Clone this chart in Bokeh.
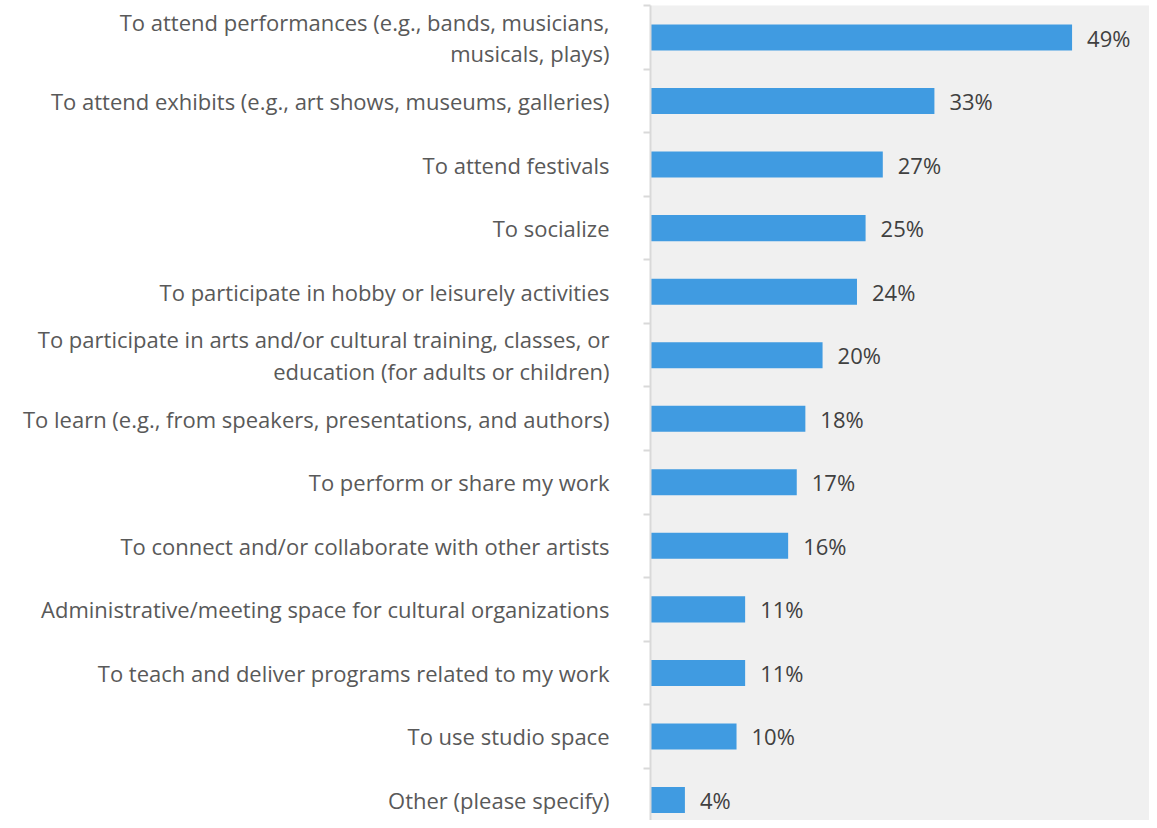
from bokeh.plotting import figure
from bokeh.models import Range1d, FixedTicker, ColumnDataSource
from bokeh.core.properties import value
from bokeh.embed import file_html
from bokeh.resources import INLINE

categories = [
    "To attend performances (e.g., bands, musicians,\nmusicals, plays)",
    "To attend exhibits (e.g., art shows, museums, galleries)",
    "To attend festivals",
    "To socialize",
    "To participate in hobby or leisurely activities",
    "To participate in arts and/or cultural training, classes, or\neducation (for adults or children)",
    "To learn (e.g., from speakers, presentations, and authors)",
    "To perform or share my work",
    "To connect and/or collaborate with other artists",
    "Administrative/meeting space for cultural organizations",
    "To teach and deliver programs related to my work",
    "To use studio space",
    "Other (please specify)",
]
percent = [49, 33, 27, 25, 24, 20, 18, 17, 16, 11, 11, 10, 4]
value_labels = [f"{v}%" for v in percent]

idx = list(range(len(categories)))
src = ColumnDataSource(dict(y=idx, v=percent, lab=value_labels))

FONT = "Open Sans"

p = figure(width=1149, height=820, output_backend="svg", toolbar_location=None,
           x_range=Range1d(0, 58.0), y_range=Range1d(12.323, -0.504),
           min_border_left=650, min_border_right=0, min_border_top=5, min_border_bottom=0)
p.background_fill_color = "#F0F0F0"
p.border_fill_color = "white"
p.outline_line_color = None
p.grid.visible = False
p.xaxis.visible = False

p.hbar(y="y", right="v", left=0, height=0.41, source=src,
       fill_color="#409BE1", line_color=None)
p.text(x="v", y="y", text="lab", source=src, x_offset=15,
       text_font=value(FONT), text_font_size="22px", text_color="#404040",
       text_baseline="middle", text_align="left")

ax = p.yaxis[0]
ax.ticker = FixedTicker(ticks=idx, minor_ticks=[i - 0.5 for i in range(len(categories) + 1)])
ax.major_label_overrides = {i: c for i, c in enumerate(categories)}
ax.major_tick_out = 0
ax.major_tick_in = 0
ax.minor_tick_out = 7
ax.minor_tick_in = 0
ax.minor_tick_line_color = "#D9D9D9"
ax.minor_tick_line_width = 2
ax.axis_line_color = "#D9D9D9"
ax.axis_line_width = 2
ax.major_label_standoff = 34
ax.major_label_text_font = FONT
ax.major_label_text_font_size = "22px"
ax.major_label_text_color = "#595959"
ax.major_label_text_align = "right"
ax.major_label_text_line_height = 1.05

open("out.html", "w").write(file_html(p, INLINE))
